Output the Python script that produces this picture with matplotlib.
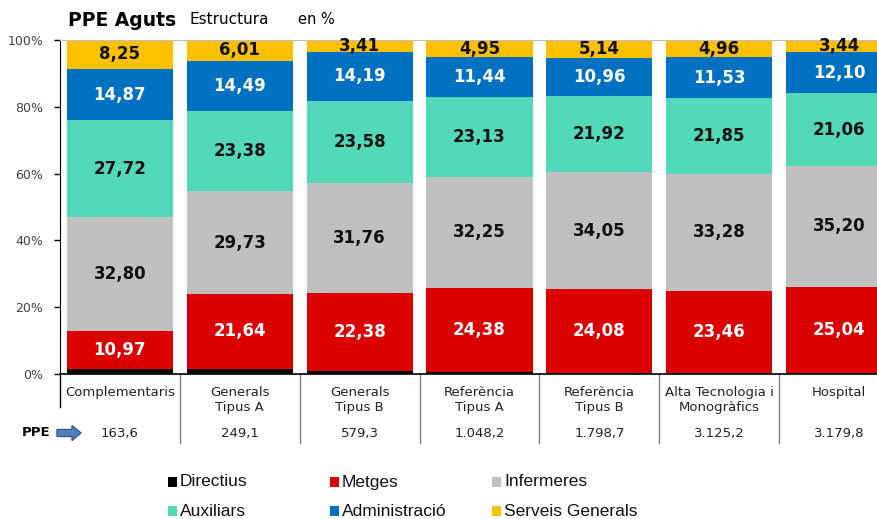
import matplotlib.pyplot as plt
import numpy as np
from matplotlib.patches import FancyArrow, Rectangle
from matplotlib.transforms import blended_transform_factory

categories = ["Complementaris", "Generals\nTipus A", "Generals\nTipus B",
              "Referència\nTipus A", "Referència\nTipus B",
              "Alta Tecnologia i\nMonogràfics", "Hospital"]
ppe = ["163,6", "249,1", "579,3", "1.048,2", "1.798,7", "3.125,2", "3.179,8"]

series = ["Directius", "Metges", "Infermeres", "Auxiliars", "Administració", "Serveis Generals"]
directius = [1.41, 1.55, 0.9, 0.5, 0.35, 0.35, 0.35]
metges = [10.97, 21.64, 22.38, 24.38, 24.08, 23.46, 25.04]
infermeres = [32.80, 29.73, 31.76, 32.25, 34.05, 33.28, 35.20]
auxiliars = [27.72, 23.38, 23.58, 23.13, 21.92, 21.85, 21.06]
administracio = [14.87, 14.49, 14.19, 11.44, 10.96, 11.53, 12.10]
serveis = [8.25, 6.01, 3.41, 4.95, 5.14, 4.96, 3.44]

colors = ["#000000", "#DA0000", "#C0C0C0", "#52D9BA", "#0070C0", "#FFC000"]
text_colors = [None, "white", "#111111", "#111111", "white", "#111111"]

values = np.array([directius, metges, infermeres, auxiliars, administracio, serveis])
shares = values / values.sum(axis=0) * 100

fig = plt.figure(figsize=(8.78, 5.19), dpi=100)
ax = fig.add_axes([60 / 878, 1 - 374 / 519, 839 / 878, 334 / 519])

x = np.arange(len(categories))
bottom = np.zeros(len(categories))
for i, name in enumerate(series):
    ax.bar(x, shares[i], bottom=bottom, width=0.885, color=colors[i], label=name)
    if text_colors[i]:
        for j in range(len(categories)):
            ax.text(x[j], bottom[j] + shares[i][j] / 2, f"{values[i][j]:.2f}".replace(".", ","),
                    ha="center", va="center", fontsize=12, fontweight="bold",
                    color=text_colors[i])
    bottom += shares[i]

ax.set_xlim(-0.5, len(categories) - 0.5)
ax.set_ylim(0, 100)
ax.set_yticks([0, 20, 40, 60, 80, 100])
ax.set_yticklabels(["0%", "20%", "40%", "60%", "80%", "100%"], fontsize=9, color="#404040")
ax.tick_params(axis="y", length=4, width=1, pad=8)
ax.set_xticks([])
ax.spines["right"].set_visible(False)
ax.spines["top"].set_color("#BFBFBF")
ax.spines["left"].set_color("black")
ax.spines["bottom"].set_color("black")
ax.spines["bottom"].set_linewidth(1.2)

trans = blended_transform_factory(ax.transData, ax.transAxes)
px = 1 / 334
ax.plot([-0.5, -0.5], [0, -33 * px], color="black", lw=1, transform=trans, clip_on=False)
for b in np.arange(0.5, len(categories) - 0.5):
    ax.plot([b, b], [0, -69 * px], color="#808080", lw=1, transform=trans, clip_on=False)

for j, cat in enumerate(categories):
    ax.text(x[j], -12 * px, cat, ha="center", va="top", fontsize=9.5, color="#222222",
            linespacing=1.15, transform=trans, clip_on=False)
    ax.text(x[j], -59 * px, ppe[j], ha="center", va="center", fontsize=9.5, color="#222222",
            transform=trans, clip_on=False)

fig.text(22 / 878, 1 - 433 / 519, "PPE", ha="left", va="center", fontsize=9.5, fontweight="bold")
fig.patches.append(FancyArrow(57 / 878, 1 - 433 / 519, 24 / 878, 0, width=7 / 519,
                              head_width=15 / 519, head_length=9 / 878,
                              length_includes_head=True, transform=fig.transFigure,
                              facecolor="#4F81BD", edgecolor="#385D8A", lw=1))

fig.text(68 / 878, 1 - 20 / 519, "PPE Aguts", ha="left", va="center", fontsize=13.5, fontweight="bold")
fig.text(190 / 878, 1 - 20 / 519, "Estructura", ha="left", va="center", fontsize=11)
fig.text(298 / 878, 1 - 20 / 519, "en %", ha="left", va="center", fontsize=10.5)

# legend, laid out on a fixed grid like the original
leg_font = ["Liberation Sans", "DejaVu Sans"]
leg_cols = [168, 330, 492]
leg_rows = [482, 511]
order = [[0, 1, 2], [3, 4, 5]]
for r, row in enumerate(order):
    for c, k in enumerate(row):
        fig.patches.append(Rectangle((leg_cols[c] / 878, 1 - (leg_rows[r] + 5) / 519), 9 / 878, 10 / 519,
                                     transform=fig.transFigure, facecolor=colors[k], edgecolor="none"))
        fig.text((leg_cols[c] + 12) / 878, 1 - leg_rows[r] / 519, series[k], ha="left", va="center",
                 fontsize=12.5, family=leg_font, color="#111111")

fig.savefig("out.png", dpi=100)
